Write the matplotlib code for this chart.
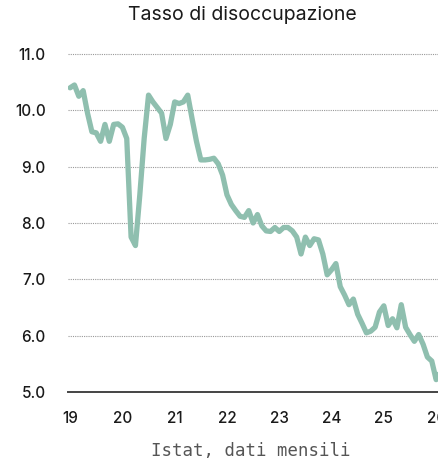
import matplotlib.pyplot as plt
import numpy as np

# Tasso di disoccupazione mensile, gen 2019 - gen 2026
start_year = 2019
rates = [
    10.40, 10.45, 10.25, 10.35, 9.95, 9.62, 9.60, 9.45, 9.75, 9.45, 9.75, 9.76,   # 2019
    9.70, 9.50, 7.75, 7.60, 8.50, 9.50, 10.27, 10.15, 10.05, 9.95, 9.50, 9.75,    # 2020
    10.15, 10.12, 10.15, 10.27, 9.85, 9.45, 9.12, 9.12, 9.13, 9.15, 9.05, 8.85,  # 2021
    8.50, 8.33, 8.22, 8.12, 8.10, 8.22, 8.00, 8.15, 7.95, 7.86, 7.85, 7.92,      # 2022
    7.85, 7.92, 7.92, 7.86, 7.75, 7.45, 7.75, 7.60, 7.72, 7.70, 7.45, 7.08,      # 2023
    7.17, 7.28, 6.87, 6.72, 6.55, 6.65, 6.38, 6.22, 6.05, 6.08, 6.15, 6.42,      # 2024
    6.53, 6.18, 6.30, 6.14, 6.55, 6.15, 6.02, 5.90, 6.02, 5.85, 5.62, 5.55,      # 2025
    5.22, 5.37,                                                                  # 2026
]
year_ticks = [2019, 2020, 2021, 2022, 2023, 2024, 2025, 2026]
year_labels = ["19", "20", "21", "22", "23", "24", "25", "26"]
y_ticks = [5.0, 6.0, 7.0, 8.0, 9.0, 10.0, 11.0]

x = start_year + np.arange(len(rates)) / 12.0

fig = plt.figure(figsize=(4.39, 4.62), dpi=100)
ax = fig.add_axes([68 / 439, 0.1515, 1 - 68 / 439, 0.756])

ax.plot(x, rates, color="#8fbfaf", linewidth=3.8, solid_joinstyle="round",
        solid_capstyle="round", zorder=3)

ax.set_xlim(2018.96, 2026.055)
ax.set_ylim(5.0, 11.2)

ax.set_yticks(y_ticks)
ax.set_yticklabels([f"{v:.1f}" for v in y_ticks])
ax.set_xticks(year_ticks)
ax.set_xticklabels(year_labels)
ax.tick_params(axis="both", length=0, labelsize=11, colors="#1a1a1a")
ax.tick_params(axis="y", pad=16)
ax.tick_params(axis="x", pad=14)
for lab in ax.get_xticklabels() + ax.get_yticklabels():
    lab.set_fontfamily("Inter")
    lab.set_fontweight("medium")

for v in y_ticks[1:]:
    ax.axhline(v, color="#999999", linewidth=0.8, linestyle=(0, (1, 1)), zorder=1)

for s in ["top", "right", "left"]:
    ax.spines[s].set_visible(False)
ax.spines["bottom"].set_color("#444444")
ax.spines["bottom"].set_linewidth(1.4)
ax.spines["bottom"].set_zorder(4)

fig.text(242 / 439, 1 - 15 / 462, "Tasso di disoccupazione", ha="center", va="center",
         fontsize=14, family="Inter", color="#1a1a1a")
fig.text(251 / 439, 1 - 451 / 462, "Istat, dati mensili", ha="center", va="center",
         fontsize=12.5, family="DejaVu Sans Mono", color="#555555")

fig.savefig("out.png", dpi=100)
